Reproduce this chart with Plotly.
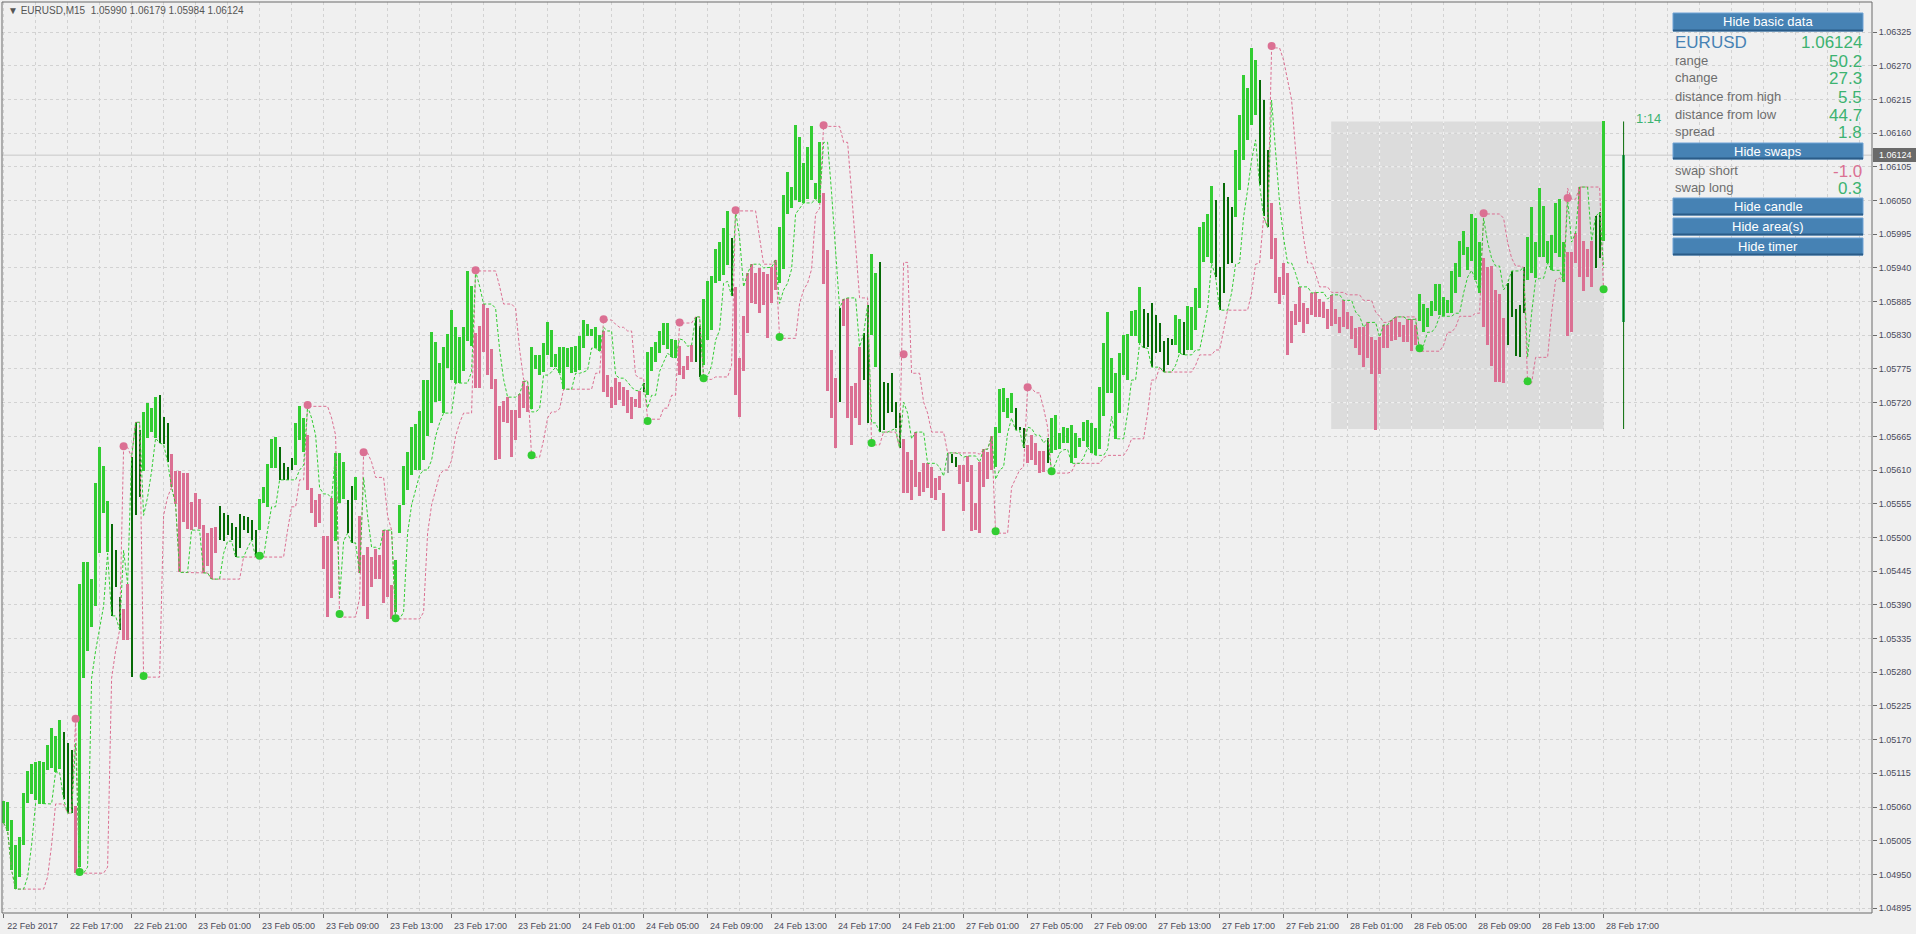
import plotly.graph_objects as go
import pandas as pd

W, H = 1916, 934

symbol = "EURUSD"
title_text = "EURUSD,M15  1.05990 1.06179 1.05984 1.06124"

time_labels = ["22 Feb 2017", "22 Feb 17:00", "22 Feb 21:00", "23 Feb 01:00", "23 Feb 05:00",
               "23 Feb 09:00", "23 Feb 13:00", "23 Feb 17:00", "23 Feb 21:00", "24 Feb 01:00",
               "24 Feb 05:00", "24 Feb 09:00", "24 Feb 13:00", "24 Feb 17:00", "24 Feb 21:00",
               "27 Feb 01:00", "27 Feb 05:00", "27 Feb 09:00", "27 Feb 13:00", "27 Feb 17:00",
               "27 Feb 21:00", "28 Feb 01:00", "28 Feb 05:00", "28 Feb 09:00", "28 Feb 13:00",
               "28 Feb 17:00"]

# M15 bar highs / lows in points (1.05070 -> 105070)
high_pts = [
    105070, 105068, 105039, 104998, 105011, 105083, 105119, 105130, 105133, 105135,
    105133, 105161, 105189, 105176, 105202, 105182, 105164, 105153, 105062, 105424,
    105460, 105460, 105432, 105589, 105647, 105616, 105559, 105522, 105479, 105403,
    105383, 105424, 105631, 105688, 105675, 105705, 105719, 105711, 105729, 105732,
    105696, 105687, 105636, 105608, 105608, 105605, 105605, 105558, 105572, 105563,
    105520, 105507, 105515, 105517, 105551, 105540, 105536, 105523, 105517, 105538,
    105535, 105533, 105528, 105512, 105563, 105582, 105620, 105661, 105664, 105647,
    105621, 105615, 105630, 105687, 105714, 105695, 105667, 105581, 105561, 105571,
    105502, 105502, 105564, 105638, 105638, 105623, 105561, 105584, 105598, 105535,
    105471, 105484, 105468, 105481, 105471, 105512, 105512, 105422, 105463, 105553,
    105616, 105639, 105680, 105685, 105706, 105757, 105757, 105835, 105819, 105785,
    105811, 105832, 105871, 105843, 105827, 105843, 105935, 105910, 105833, 105845,
    105881, 105874, 105807, 105758, 105714, 105723, 105729, 105708, 105708, 105734,
    105755, 105747, 105811, 105798, 105798, 105817, 105851, 105838, 105799, 105811,
    105811, 105809, 105811, 105812, 105829, 105855, 105848, 105840, 105843, 105830,
    105837, 105765, 105745, 105760, 105754, 105745, 105740, 105729, 105726, 105739,
    105752, 105802, 105811, 105819, 105837, 105850, 105850, 105824, 105822, 105812,
    105780, 105796, 105814, 105860, 105845, 105889, 105918, 105927, 105971, 105982,
    106005, 106033, 105989, 105909, 105793, 105861, 105931, 105946, 105931, 105940,
    105933, 105930, 105941, 105953, 106006, 106059, 106096, 106072, 106173, 106153,
    106111, 106137, 106171, 106078, 106145, 106062, 105969, 105806, 105760, 105874,
    105889, 105891, 105747, 105752, 105811, 105833, 105879, 105962, 105931, 105949,
    105754, 105752, 105768, 105721, 105703, 105661, 105639, 105626, 105672, 105607,
    105621, 105621, 105615, 105597, 105600, 105572, 105638, 105636, 105631, 105618,
    105618, 105633, 105618, 105556, 105623, 105644, 105639, 105665, 105680, 105742,
    105744, 105727, 105736, 105711, 105680, 105678, 105651, 105667, 105654, 105641,
    105641, 105662, 105695, 105700, 105670, 105680, 105678, 105683, 105670, 105662,
    105688, 105692, 105687, 105678, 105745, 105817, 105868, 105793, 105768, 105801,
    105830, 105832, 105869, 105871, 105909, 105873, 105866, 105882, 105863, 105850,
    105820, 105825, 105824, 105863, 105856, 105851, 105878, 105876, 105907, 106006,
    106015, 106028, 106073, 106051, 105941, 106078, 106055, 106039, 106132, 106189,
    106255, 106233, 106299, 106279, 106246, 106214, 106132, 106046, 105989, 105925,
    105948, 105931, 105869, 105881, 105909, 105882, 105874, 105899, 105900, 105889,
    105884, 105873, 105896, 105873, 105860, 105887, 105868, 105861, 105842, 105843,
    105843, 105851, 105827, 105822, 105827, 105847, 105847, 105855, 105860, 105851,
    105847, 105856, 105856, 105847, 105897, 105881, 105874, 105886, 105913, 105913,
    105892, 105887, 105935, 105948, 105984, 106000, 105974, 106028, 106021, 105982,
    105956, 105941, 105943, 105904, 105897, 105858, 105915, 105935, 105873, 105879,
    105941, 105990, 106039, 105982, 106070, 106041, 105984, 105993, 106046, 106052,
    105982, 105966, 105966, 105997, 106072, 105984, 105971, 105984, 106024, 106031,
    106179]

low_pts = [
    105034, 105021, 104957, 104926, 104946, 104998, 105066, 105081, 105071, 105066,
    105065, 105120, 105124, 105117, 105122, 105073, 105050, 105050, 104952, 104962,
    105270, 105315, 105354, 105388, 105474, 105540, 105476, 105372, 105419, 105349,
    105332, 105332, 105272, 105536, 105566, 105608, 105662, 105672, 105662, 105654,
    105652, 105623, 105582, 105554, 105443, 105525, 105514, 105512, 105517, 105514,
    105442, 105453, 105432, 105474, 105496, 105494, 105504, 105496, 105468, 105483,
    105512, 105507, 105496, 105468, 105512, 105556, 105550, 105613, 105613, 105594,
    105594, 105594, 105610, 105618, 105659, 105639, 105577, 105540, 105517, 105523,
    105448, 105370, 105401, 105494, 105556, 105563, 105507, 105491, 105561, 105442,
    105388, 105367, 105419, 105432, 105432, 105393, 105403, 105367, 105378, 105507,
    105553, 105577, 105602, 105610, 105610, 105626, 105665, 105687, 105721, 105723,
    105703, 105776, 105757, 105752, 105752, 105771, 105820, 105812, 105744, 105744,
    105802, 105765, 105742, 105626, 105628, 105688, 105687, 105631, 105659, 105695,
    105711, 105705, 105710, 105775, 105765, 105770, 105798, 105778, 105778, 105768,
    105742, 105778, 105768, 105770, 105773, 105809, 105829, 105829, 105809, 105804,
    105737, 105729, 105711, 105716, 105724, 105714, 105703, 105693, 105713, 105711,
    105737, 105732, 105771, 105786, 105801, 105814, 105807, 105794, 105793, 105765,
    105758, 105773, 105786, 105786, 105762, 105781, 105822, 105838, 105915, 105918,
    105928, 105944, 105894, 105732, 105696, 105771, 105833, 105882, 105881, 105866,
    105879, 105825, 105882, 105904, 105915, 105938, 106028, 106037, 106051, 106047,
    106046, 106052, 106083, 106052, 106046, 105913, 105739, 105695, 105646, 105721,
    105845, 105695, 105651, 105695, 105683, 105757, 105687, 105830, 105778, 105672,
    105675, 105703, 105705, 105678, 105646, 105572, 105572, 105561, 105582, 105567,
    105574, 105581, 105564, 105561, 105577, 105510, 105605, 105621, 105615, 105587,
    105543, 105590, 105510, 105512, 105507, 105582, 105595, 105610, 105615, 105670,
    105705, 105695, 105703, 105675, 105675, 105646, 105621, 105626, 105618, 105605,
    105607, 105621, 105638, 105643, 105644, 105654, 105654, 105621, 105630, 105647,
    105657, 105647, 105638, 105634, 105644, 105698, 105736, 105736, 105661, 105703,
    105765, 105757, 105829, 105829, 105817, 105809, 105811, 105778, 105801, 105802,
    105770, 105781, 105814, 105814, 105801, 105798, 105806, 105806, 105838, 105874,
    105949, 105958, 105948, 105925, 105871, 105899, 105946, 105948, 106023, 106067,
    106116, 106149, 106173, 106189, 106075, 106024, 106006, 105954, 105899, 105881,
    105896, 105798, 105817, 105847, 105851, 105833, 105848, 105863, 105860, 105860,
    105858, 105840, 105845, 105848, 105833, 105843, 105840, 105824, 105809, 105798,
    105778, 105793, 105767, 105675, 105767, 105809, 105809, 105820, 105822, 105827,
    105819, 105819, 105804, 105814, 105853, 105835, 105843, 105861, 105869, 105863,
    105861, 105866, 105866, 105899, 105925, 105961, 105936, 105951, 105920, 105899,
    105843, 105814, 105780, 105754, 105754, 105752, 105814, 105860, 105796, 105794,
    105866, 105920, 105931, 105923, 105958, 105958, 105948, 105936, 105964, 105958,
    105917, 105829, 105835, 105948, 105925, 105902, 105925, 105909, 105940, 105956,
    105984]

# bar colour runs: u = up (green), d = down (pink), n = neutral (thin), g = grey doji
bar_kind_runs = [("u", 15), ("n", 3), ("d", 1), ("u", 8), ("n", 3), ("d", 2), ("n", 3), ("u", 4),
                 ("n", 3), ("d", 12), ("n", 10), ("u", 5), ("n", 4), ("u", 3), ("d", 7), ("u", 3),
                 ("n", 2), ("u", 1), ("d", 9), ("u", 20), ("d", 14), ("u", 18), ("d", 10), ("n", 1),
                 ("u", 8), ("d", 4), ("n", 2), ("u", 7), ("n", 1), ("d", 11), ("u", 11), ("d", 4),
                 ("n", 1), ("d", 5), ("n", 2), ("u", 2), ("n", 6), ("d", 11), ("g", 1), ("n", 2),
                 ("d", 9), ("u", 5), ("n", 3), ("d", 5), ("n", 1), ("u", 23), ("n", 8), ("u", 2),
                 ("n", 1), ("u", 7), ("n", 5), ("u", 6), ("n", 3), ("d", 37), ("u", 16), ("d", 6),
                 ("n", 5), ("u", 10), ("d", 7), ("n", 2), ("u", 1)]

swing_high_idx = [18, 30, 76, 90, 118, 150, 169, 183, 205, 225, 256, 317, 370, 391]
swing_high_pts = [105204, 105649, 105716, 105639, 105936, 105856, 105851, 106034, 106173,
                  105799, 105745, 106302, 106029, 106054]
swing_low_idx = [19, 35, 64, 84, 98, 132, 161, 175, 194, 217, 248, 262, 354, 381, 400]
swing_low_pts = [104954, 105274, 105470, 105375, 105368, 105634, 105690, 105760, 105827,
                 105654, 105510, 105608, 105809, 105755, 105905]

# today's candle / area
day_open, day_high, day_low, day_close = 1.05851, 1.06179, 1.05677, 1.06124
day_start_idx = 332
last_price = 1.06124
timer_text = "1:14"

info_rows = ["range", "change", "distance from high", "distance from low", "spread"]
info_vals = ["50.2", "27.3", "5.5", "44.7", "1.8"]
swap_rows = ["swap short", "swap long"]
swap_vals = ["-1.0", "0.3"]
buttons = ["Hide basic data", "Hide swaps", "Hide candle", "Hide area(s)", "Hide timer"]

GREEN = "#32CD32"
PINK = "#DB7093"
DARK = "#066A06"
SEA = "#3CB371"
STEEL = "#4682B4"
GRID = "#D2D2D2"
FONT = "Liberation Sans, Arial, sans-serif"

df = pd.DataFrame({"high": [v / 1e5 for v in high_pts], "low": [v / 1e5 for v in low_pts]})
df["kind"] = [k for k, n in bar_kind_runs for _ in range(n)]
df["idx"] = range(len(df))

# trailing channel: side flips at each swing dot
flips = sorted([(i, "down") for i in swing_high_idx] + [(i, "up") for i in swing_low_idx])
state, cur, j = [], "up", 0
for i in range(len(df)):
    while j < len(flips) and flips[j][0] <= i:
        cur = flips[j][1]
        j += 1
    state.append(cur)
df["state"] = state


def channel(n):
    lo = df["low"].rolling(n, min_periods=1).min()
    hi = df["high"].rolling(n, min_periods=1).max()
    return lo.where(df["state"] == "up", hi)


df["fast"] = channel(3)
df["slow"] = channel(8)

fig = go.Figure()

fig.add_trace(go.Scatter(x=df["idx"], y=df["slow"], mode="lines",
                         line=dict(color=PINK, width=1, dash="3px,2px")))
fig.add_trace(go.Scatter(x=df["idx"], y=df["fast"], mode="lines",
                         line=dict(color=GREEN, width=1, dash="3px,2px")))

for kind, color, width in [("u", GREEN, 0.75), ("d", PINK, 0.75), ("n", DARK, 0.28), ("g", "#A0A0A0", 0.28)]:
    sub = df[df["kind"] == kind]
    fig.add_trace(go.Bar(x=sub["idx"], y=sub["high"] - sub["low"], base=sub["low"],
                         width=width, marker=dict(color=color, line=dict(width=0))))

fig.add_trace(go.Scatter(x=swing_high_idx, y=[v / 1e5 for v in swing_high_pts], mode="markers",
                         marker=dict(color=PINK, size=8)))
fig.add_trace(go.Scatter(x=swing_low_idx, y=[v / 1e5 for v in swing_low_pts], mode="markers",
                         marker=dict(color=GREEN, size=8)))

# big daily candle on the right
candle_x = 405
fig.add_trace(go.Scatter(x=[candle_x, candle_x], y=[day_low, day_high], mode="lines",
                         line=dict(color=DARK, width=1)))
fig.add_trace(go.Bar(x=[candle_x], y=[day_close - day_open], base=[day_open], width=0.9,
                     marker=dict(color=SEA, line=dict(width=0))))


def px(x):
    return x / W


def py(y):
    return 1 - y / H


tick_prices = [round(1.04895 + 0.00055 * k, 5) for k in range(27)]
area_x0, area_x1 = day_start_idx - 0.1, len(df) - 1

shapes = [
    dict(type="rect", xref="x", yref="y", x0=area_x0, x1=area_x1, y0=day_low, y1=day_high,
         fillcolor="#DCDCDC", line=dict(width=0), layer="below"),
    dict(type="line", xref="paper", yref="y", x0=px(2), x1=px(1872), y0=last_price, y1=last_price,
         line=dict(color="#C8C8C8", width=1), layer="below"),
    dict(type="rect", xref="paper", yref="paper", x0=px(2), x1=px(1872), y0=py(913), y1=py(2),
         line=dict(color="#6A6A6A", width=1)),
    dict(type="rect", xref="paper", yref="paper", x0=px(1873), x1=px(1916), y0=py(162), y1=py(148),
         fillcolor="#6A6A6A", line=dict(width=0)),
]
# grid shows lighter inside the day area
for gx in range(0, 470, 8):
    if area_x0 < gx < area_x1:
        shapes.append(dict(type="line", xref="x", yref="y", x0=gx, x1=gx, y0=day_low, y1=day_high,
                           line=dict(color="#F4F4F4", width=1, dash="3px,3px"), layer="between"))
for gp in tick_prices:
    if day_low < gp < day_high:
        shapes.append(dict(type="line", xref="x", yref="y", x0=area_x0, x1=area_x1, y0=gp, y1=gp,
                           line=dict(color="#F4F4F4", width=1, dash="3px,3px"), layer="between"))

annotations = [
    dict(x=px(6), y=py(11), xref="paper", yref="paper", xanchor="left", yanchor="middle", showarrow=False,
         text="\u25bc " + title_text, font=dict(family=FONT, size=10, color="#555555")),
    dict(x=px(1895), y=py(155), xref="paper", yref="paper", xanchor="center", yanchor="middle", showarrow=False,
         text=f"{last_price:.5f}", font=dict(family=FONT, size=9, color="white")),
    dict(x=px(1663), y=py(118), xref="paper", yref="paper", xanchor="right", yanchor="middle", showarrow=False,
         text=timer_text, font=dict(family=FONT, size=13, color=SEA)),
    dict(x=px(1673), y=py(42), xref="paper", yref="paper", xanchor="left", yanchor="middle", showarrow=False,
         text=symbol, font=dict(family=FONT, size=17, color=STEEL)),
    dict(x=px(1864), y=py(42), xref="paper", yref="paper", xanchor="right", yanchor="middle", showarrow=False,
         text=f"{last_price:.5f}", font=dict(family=FONT, size=17, color=SEA)),
]

row_y = [60, 78, 96, 114, 132]
for name, val, y in zip(info_rows, info_vals, row_y):
    annotations.append(dict(x=px(1673), y=py(y), xref="paper", yref="paper", xanchor="left", yanchor="middle",
                            showarrow=False, text=name, font=dict(family=FONT, size=13, color="#6E6E6E")))
    annotations.append(dict(x=px(1864), y=py(y + 1), xref="paper", yref="paper", xanchor="right",
                            yanchor="middle", showarrow=False, text=val,
                            font=dict(family=FONT, size=17, color=SEA)))

for name, val, y in zip(swap_rows, swap_vals, [170, 188]):
    annotations.append(dict(x=px(1673), y=py(y), xref="paper", yref="paper", xanchor="left", yanchor="middle",
                            showarrow=False, text=name, font=dict(family=FONT, size=13, color="#6E6E6E")))
    annotations.append(dict(x=px(1864), y=py(y + 1), xref="paper", yref="paper", xanchor="right",
                            yanchor="middle", showarrow=False, text=val,
                            font=dict(family=FONT, size=17, color=PINK if val.startswith("-") else SEA)))

button_y = [(13, 31), (143, 159), (198, 215), (218, 235), (238, 255)]
for label, (y0, y1) in zip(buttons, button_y):
    shapes.append(dict(type="rect", xref="paper", yref="paper", x0=px(1673), x1=px(1863), y0=py(y1), y1=py(y0),
                       fillcolor=STEEL, line=dict(color="#6FA3D6", width=1)))
    shapes.append(dict(type="line", xref="paper", yref="paper", x0=px(1673), x1=px(1863),
                       y0=py(y1 - 0.5), y1=py(y1 - 0.5), line=dict(color="#2B5C88", width=2)))
    annotations.append(dict(x=px(1768), y=py((y0 + y1) / 2), xref="paper", yref="paper", xanchor="center",
                            yanchor="middle", showarrow=False, text=label,
                            font=dict(family=FONT, size=13, color="white")))

fig.update_layout(
    width=W, height=H,
    margin=dict(l=0, r=0, t=0, b=0),
    paper_bgcolor="#F0F0F0",
    plot_bgcolor="#F0F0F0",
    showlegend=False,
    barmode="overlay",
    bargap=0,
    shapes=shapes,
    annotations=annotations,
    font=dict(family=FONT, size=9, color="#4A4A5A"),
    xaxis=dict(
        domain=[px(2), px(1872)], range=[-0.4, 467.1],
        tickmode="array", tickvals=[16 * k for k in range(len(time_labels))], ticktext=time_labels,
        ticks="outside", ticklen=4, tickcolor="#6A6A6A", ticklabelshift=29,
        showgrid=True, gridcolor=GRID, griddash="3px,3px", gridwidth=1,
        minor=dict(dtick=8, tick0=0, showgrid=True, gridcolor=GRID, griddash="3px,3px", ticks=""),
        zeroline=False, showline=False, automargin=False, fixedrange=True,
    ),
    yaxis=dict(
        domain=[py(913), py(2)], range=[1.04887, 1.06374], side="right",
        tickmode="array", tickvals=tick_prices, ticktext=[f"{p:.5f}" for p in tick_prices],
        ticks="outside", ticklen=4, tickcolor="#6A6A6A",
        showgrid=True, gridcolor=GRID, griddash="3px,3px", gridwidth=1,
        zeroline=False, showline=False, automargin=False, fixedrange=True,
    ),
)

fig.write_html("out.html", config={"displayModeBar": False},
               post_script="document.body.style.margin='0';document.body.style.overflow='hidden';")
